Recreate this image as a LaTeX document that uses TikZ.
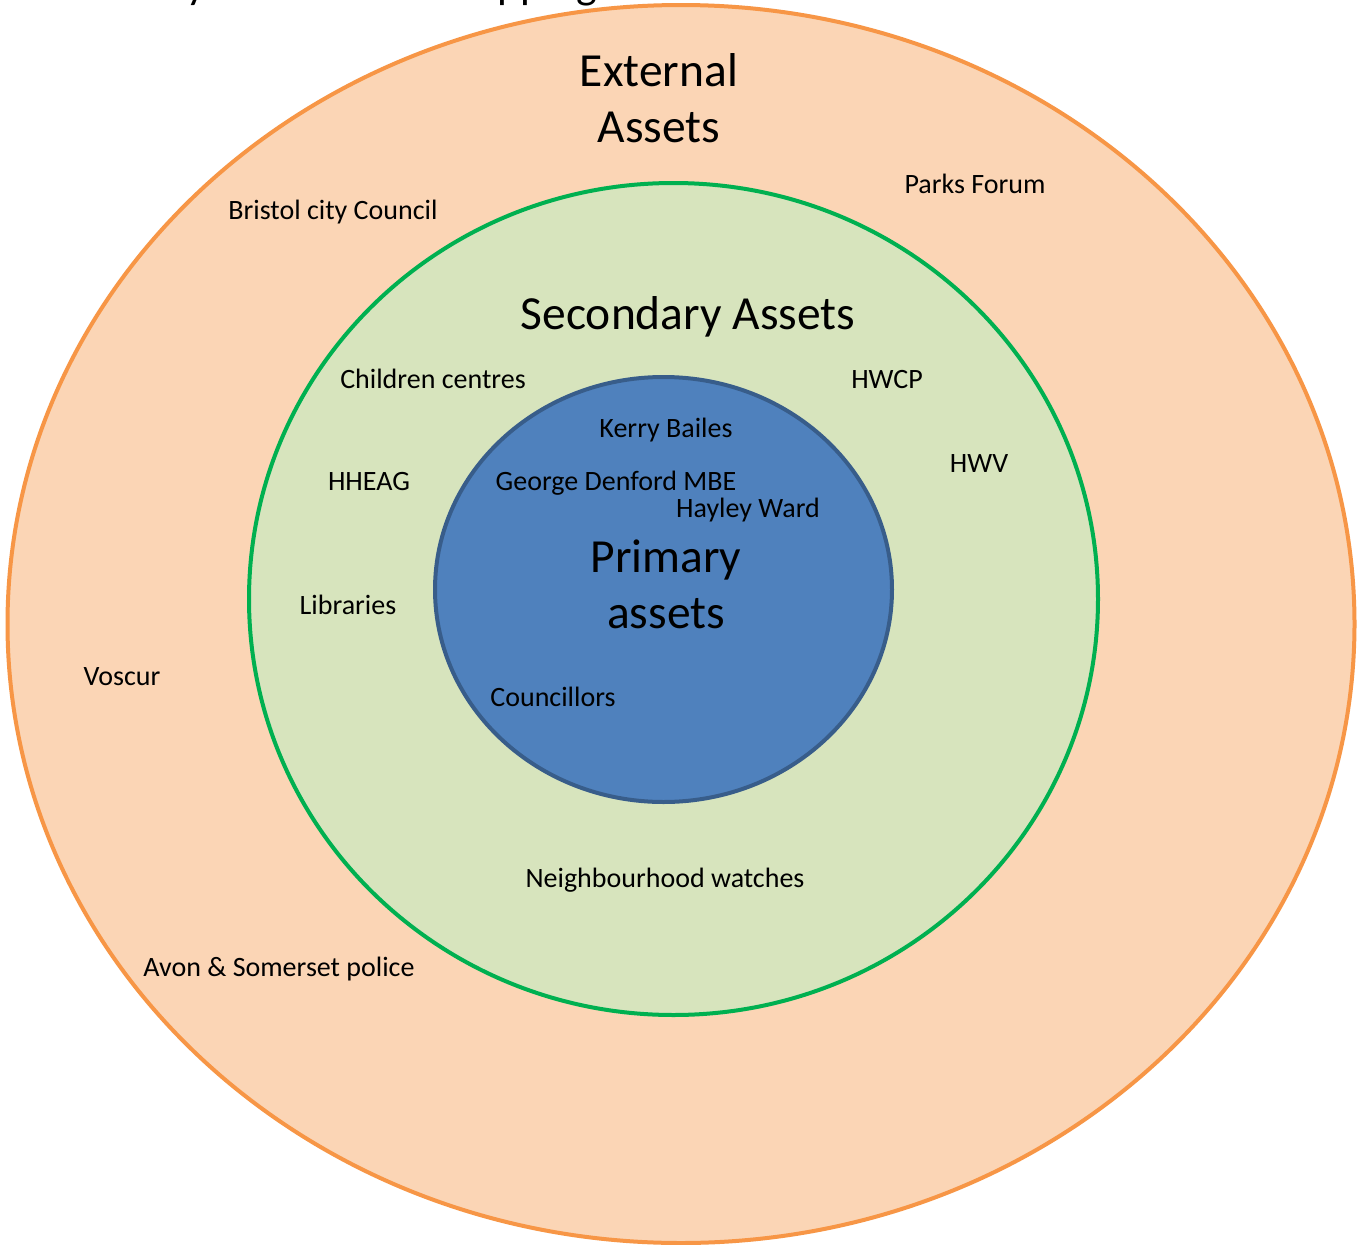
\documentclass[tikz,border=0pt]{standalone}
\usepackage{fontspec}
\setmainfont{Carlito}
\usetikzlibrary{shapes.geometric}
\definecolor{outerfill}{HTML}{FBD5B5}
\definecolor{outerline}{HTML}{F79646}
\definecolor{midfill}{HTML}{D7E4BD}
\definecolor{midline}{HTML}{00B050}
\definecolor{innerfill}{HTML}{4F81BD}
\definecolor{innerline}{HTML}{385D8A}
\tikzset{
  ring/.style={ellipse, line width=4pt, inner sep=0pt},
  lbl/.style={anchor=base, inner sep=0pt, font=\fontsize{28}{34}\selectfont, text=black},
  biglbl/.style={anchor=center, inner sep=0pt, align=center, font=\fontsize{47.5}{56}\selectfont, text=black},
}
\begin{document}
\begin{tikzpicture}[x=1pt,y=-1pt]
\useasboundingbox (0,0) rectangle (1358,1245);
\fill[white] (0,0) rectangle (1358,1245);
% title, cut off at the top edge
\node[anchor=base west, inner sep=0pt, font=\fontsize{44}{50}\selectfont] (title) at (-2,-2) {Community Stakeholder Mapping};
% rings
\node[ring, draw=outerline, fill=outerfill, minimum width=1347pt, minimum height=1238pt] (outer) at (681,624) {};
\node[ring, draw=midline, fill=midfill, minimum width=849pt, minimum height=832pt] (middle) at (673.5,599) {};
\node[ring, draw=innerline, fill=innerfill, minimum width=457pt, minimum height=425pt] (inner) at (663.5,589.5) {};
% headings
\node[biglbl] (external) at (659,98.5) {External\\Assets};
\node[biglbl, anchor=base] (secondary) at (688,329) {Secondary Assets};
\node[biglbl] (primary) at (666,584.5) {Primary\\assets};
% external assets
\node[lbl] (bcc) at (333,219) {Bristol city Council};
\node[lbl] (parks) at (975,193) {Parks Forum};
\node[lbl] (voscur) at (122,685) {Voscur};
\node[lbl] (police) at (279,976) {Avon \& Somerset police};
% secondary assets
\node[lbl] (children) at (433,388) {Children centres};
\node[lbl] (hwcp) at (887,388) {HWCP};
\node[lbl] (hwv) at (979,472) {HWV};
\node[lbl] (hheag) at (369,490) {HHEAG};
\node[lbl] (libraries) at (348,614) {Libraries};
\node[lbl] (watches) at (665,887) {Neighbourhood watches};
% primary assets
\node[lbl] (kerry) at (666,437) {Kerry Bailes};
\node[lbl] (george) at (616,490) {George Denford MBE};
\node[lbl] (hayley) at (748,517) {Hayley Ward};
\node[lbl] (councillors) at (553,706) {Councillors};
\end{tikzpicture}
\end{document}
